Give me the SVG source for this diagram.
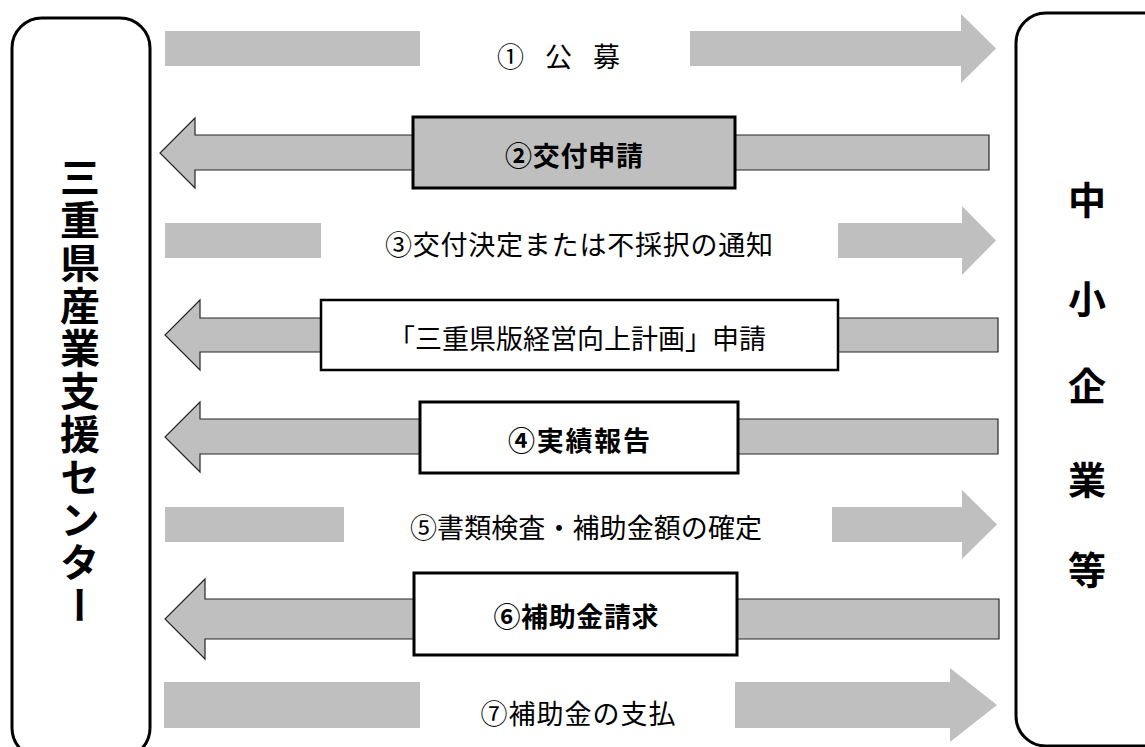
<svg xmlns="http://www.w3.org/2000/svg" width="1145" height="747" viewBox="0 0 1145 747">
<style>
.party{fill:#fff;stroke:#000;stroke-width:3}
.flat{fill:#BFBFBF;stroke:none}
.outl{fill:#BFBFBF;stroke:#262626;stroke-width:1.2}
.box{fill:#fff;stroke:#000;stroke-width:3}
.lbl{font-family:"Noto Sans CJK JP","Noto Sans",sans-serif;font-size:27px;fill:#000;text-anchor:middle;dominant-baseline:central}
.b{font-weight:700}
.big{font-family:"Noto Sans CJK JP","Noto Sans",sans-serif;font-size:38px;font-weight:700;fill:#000;text-anchor:middle;dominant-baseline:central}
</style>
<rect width="1145" height="747" fill="#fff"/>
<g id="center">
<rect class="party" x="12" y="18" width="138" height="740" rx="30"/>
<text x="80" y="157" writing-mode="vertical-rl" font-family="'Noto Sans CJK JP',sans-serif" font-size="40" font-weight="700" letter-spacing="2.8" fill="#000">三重県産業支援センター</text>
</g>
<g id="sme">
<rect class="party" x="1016" y="13" width="160" height="733" rx="30"/>
<text class="big" x="1087" y="197">中</text>
<text class="big" x="1087" y="296">小</text>
<text class="big" x="1087" y="383">企</text>
<text class="big" x="1087" y="477">業</text>
<text class="big" x="1087" y="567">等</text>
</g>
<g id="connectors">
<rect class="flat" x="165" y="31" width="255" height="35"/>
<polygon class="flat" points="690,31 961,31 961,14 996,48.5 961,83 961,66 690,66"/>
<polygon class="outl" points="989,135 195,135 195,118 160,153 195,188 195,170 989,170"/>
<rect class="flat" x="165" y="223" width="156" height="35"/>
<polygon class="flat" points="838,223 962,223 962,206 996,240.5 962,275 962,258 838,258"/>
<polygon class="outl" points="998,318 200,318 200,300 165,335 200,370 200,352 998,352"/>
<polygon class="outl" points="998,419 200,419 200,402 165,437 200,472 200,454 998,454"/>
<rect class="flat" x="165" y="507" width="179" height="35"/>
<polygon class="flat" points="832,507 962,507 962,490 997,524.5 962,559 962,542 832,542"/>
<polygon class="outl" points="999,599 205,599 205,579 165,619 205,659 205,639 999,639"/>
<rect class="flat" x="164" y="682" width="256" height="46"/>
<polygon class="flat" points="735,682 950,682 950,668 997,705 950,742 950,728 735,728"/>
</g>
<g id="step1"><text class="lbl" x="558.5" y="55" textLength="123">① 公 募</text></g>
<g id="step2"><rect class="box" x="413" y="117" width="322" height="71" style="fill:#BFBFBF"/><text class="lbl b" x="574" y="154" textLength="138">②交付申請</text></g>
<g id="step3"><text class="lbl" x="579" y="243" textLength="388">③交付決定または不採択の通知</text></g>
<g id="step3b"><rect class="box" x="321" y="300" width="517" height="70" style="stroke-width:2.5"/><text class="lbl" x="577" y="337" textLength="378">「三重県版経営向上計画」申請</text></g>
<g id="step4"><rect class="box" x="420" y="402" width="318" height="71"/><text class="lbl b" x="579" y="439" textLength="142">④実績報告</text></g>
<g id="step5"><text class="lbl" x="586" y="526" textLength="352">⑤書類検査・補助金額の確定</text></g>
<g id="step6"><rect class="box" x="414" y="573" width="323" height="82"/><text class="lbl b" x="576" y="615" textLength="165">⑥補助金請求</text></g>
<g id="step7"><text class="lbl" x="578" y="712" textLength="195">⑦補助金の支払</text></g>
</svg>
